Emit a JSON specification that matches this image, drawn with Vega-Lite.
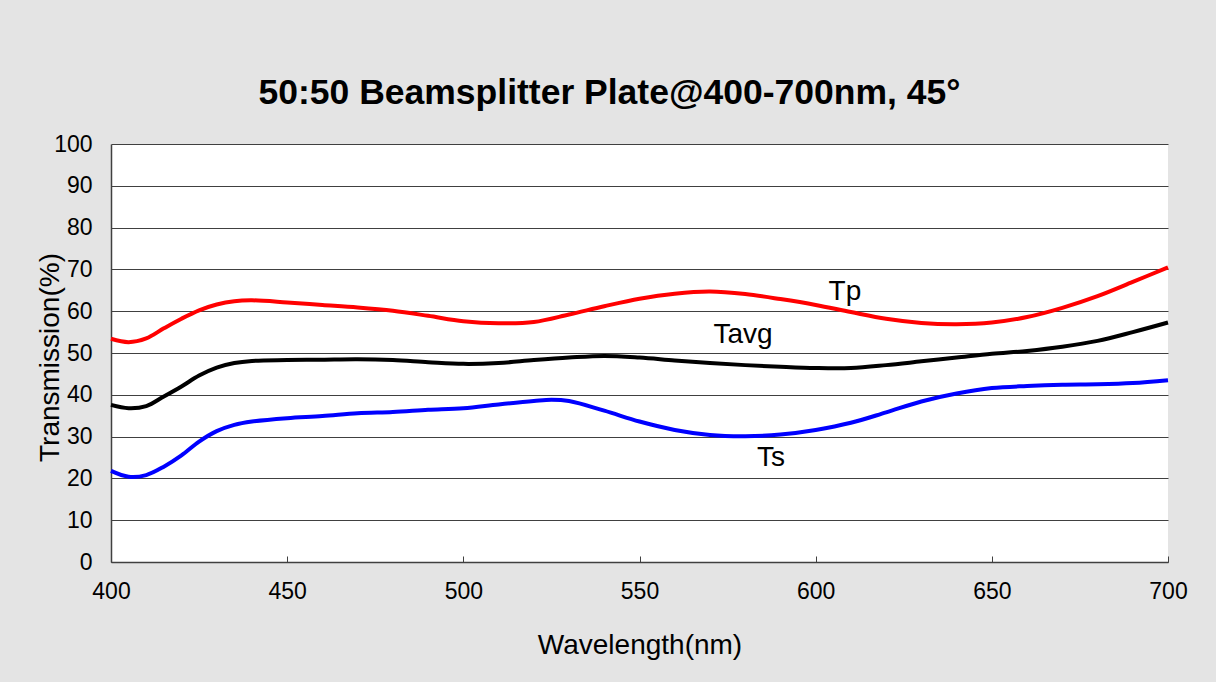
{
  "$schema": "https://vega.github.io/schema/vega-lite/v6.json",
  "autosize": {"type": "none"},
  "padding": {"left": 111, "top": 144, "right": 48, "bottom": 120},
  "width": 1057,
  "height": 418,
  "background": "#e4e4e4",
  "title": {
    "text": "50:50 Beamsplitter Plate@400-700nm, 45°",
    "font": "Liberation Sans",
    "fontSize": 35.5,
    "fontWeight": "bold",
    "color": "#000000",
    "anchor": "middle",
    "frame": "group",
    "baseline": "alphabetic",
    "offset": 39,
    "dx": -30,
    "dy": 45
  },
  "config": {
    "view": {"fill": "white", "stroke": null},
    "axis": {
      "labelFont": "Liberation Sans",
      "titleFont": "Liberation Sans",
      "labelColor": "#000000",
      "titleColor": "#000000",
      "labelFontSize": 23,
      "titleFontSize": 28,
      "titleFontWeight": "normal",
      "domainColor": "#404040",
      "domainWidth": 1.5,
      "tickColor": "#404040"
    }
  },
  "datasets": {
    "curves": [
      {"series": "Tp", "wavelength": 400, "T": 53.4},
      {"series": "Tp", "wavelength": 405, "T": 52.6},
      {"series": "Tp", "wavelength": 410, "T": 53.5},
      {"series": "Tp", "wavelength": 415, "T": 55.9},
      {"series": "Tp", "wavelength": 420, "T": 58.2},
      {"series": "Tp", "wavelength": 425, "T": 60.2},
      {"series": "Tp", "wavelength": 430, "T": 61.6},
      {"series": "Tp", "wavelength": 435, "T": 62.4},
      {"series": "Tp", "wavelength": 440, "T": 62.6},
      {"series": "Tp", "wavelength": 450, "T": 62.1},
      {"series": "Tp", "wavelength": 460, "T": 61.5},
      {"series": "Tp", "wavelength": 470, "T": 60.9},
      {"series": "Tp", "wavelength": 480, "T": 60.1},
      {"series": "Tp", "wavelength": 490, "T": 58.9},
      {"series": "Tp", "wavelength": 500, "T": 57.6},
      {"series": "Tp", "wavelength": 510, "T": 57.1},
      {"series": "Tp", "wavelength": 520, "T": 57.4},
      {"series": "Tp", "wavelength": 530, "T": 59.2},
      {"series": "Tp", "wavelength": 540, "T": 61.2},
      {"series": "Tp", "wavelength": 550, "T": 63.0},
      {"series": "Tp", "wavelength": 560, "T": 64.2},
      {"series": "Tp", "wavelength": 570, "T": 64.7},
      {"series": "Tp", "wavelength": 580, "T": 64.1},
      {"series": "Tp", "wavelength": 590, "T": 62.9},
      {"series": "Tp", "wavelength": 600, "T": 61.5},
      {"series": "Tp", "wavelength": 610, "T": 59.8},
      {"series": "Tp", "wavelength": 620, "T": 58.2},
      {"series": "Tp", "wavelength": 630, "T": 57.2},
      {"series": "Tp", "wavelength": 640, "T": 56.9},
      {"series": "Tp", "wavelength": 650, "T": 57.3},
      {"series": "Tp", "wavelength": 660, "T": 58.6},
      {"series": "Tp", "wavelength": 670, "T": 60.8},
      {"series": "Tp", "wavelength": 680, "T": 63.6},
      {"series": "Tp", "wavelength": 690, "T": 67.0},
      {"series": "Tp", "wavelength": 700, "T": 70.5},
      {"series": "Tavg", "wavelength": 400, "T": 37.6},
      {"series": "Tavg", "wavelength": 405, "T": 36.8},
      {"series": "Tavg", "wavelength": 410, "T": 37.3},
      {"series": "Tavg", "wavelength": 415, "T": 39.6},
      {"series": "Tavg", "wavelength": 420, "T": 42.0},
      {"series": "Tavg", "wavelength": 425, "T": 44.6},
      {"series": "Tavg", "wavelength": 430, "T": 46.5},
      {"series": "Tavg", "wavelength": 435, "T": 47.6},
      {"series": "Tavg", "wavelength": 440, "T": 48.1},
      {"series": "Tavg", "wavelength": 450, "T": 48.3},
      {"series": "Tavg", "wavelength": 460, "T": 48.4},
      {"series": "Tavg", "wavelength": 470, "T": 48.5},
      {"series": "Tavg", "wavelength": 480, "T": 48.3},
      {"series": "Tavg", "wavelength": 490, "T": 47.8},
      {"series": "Tavg", "wavelength": 500, "T": 47.4},
      {"series": "Tavg", "wavelength": 510, "T": 47.6},
      {"series": "Tavg", "wavelength": 520, "T": 48.3},
      {"series": "Tavg", "wavelength": 530, "T": 48.9},
      {"series": "Tavg", "wavelength": 540, "T": 49.3},
      {"series": "Tavg", "wavelength": 550, "T": 48.9},
      {"series": "Tavg", "wavelength": 560, "T": 48.2},
      {"series": "Tavg", "wavelength": 570, "T": 47.6},
      {"series": "Tavg", "wavelength": 580, "T": 47.1},
      {"series": "Tavg", "wavelength": 590, "T": 46.7},
      {"series": "Tavg", "wavelength": 600, "T": 46.4},
      {"series": "Tavg", "wavelength": 610, "T": 46.4},
      {"series": "Tavg", "wavelength": 620, "T": 47.1},
      {"series": "Tavg", "wavelength": 630, "T": 48.0},
      {"series": "Tavg", "wavelength": 640, "T": 48.9},
      {"series": "Tavg", "wavelength": 650, "T": 49.8},
      {"series": "Tavg", "wavelength": 660, "T": 50.5},
      {"series": "Tavg", "wavelength": 670, "T": 51.5},
      {"series": "Tavg", "wavelength": 680, "T": 52.9},
      {"series": "Tavg", "wavelength": 690, "T": 55.0},
      {"series": "Tavg", "wavelength": 700, "T": 57.3},
      {"series": "Ts", "wavelength": 400, "T": 21.8},
      {"series": "Ts", "wavelength": 405, "T": 20.4},
      {"series": "Ts", "wavelength": 410, "T": 20.8},
      {"series": "Ts", "wavelength": 415, "T": 22.8},
      {"series": "Ts", "wavelength": 420, "T": 25.5},
      {"series": "Ts", "wavelength": 425, "T": 28.8},
      {"series": "Ts", "wavelength": 430, "T": 31.3},
      {"series": "Ts", "wavelength": 435, "T": 32.8},
      {"series": "Ts", "wavelength": 440, "T": 33.6},
      {"series": "Ts", "wavelength": 450, "T": 34.4},
      {"series": "Ts", "wavelength": 460, "T": 34.9},
      {"series": "Ts", "wavelength": 470, "T": 35.6},
      {"series": "Ts", "wavelength": 480, "T": 35.9},
      {"series": "Ts", "wavelength": 490, "T": 36.4},
      {"series": "Ts", "wavelength": 500, "T": 36.8},
      {"series": "Ts", "wavelength": 510, "T": 37.7},
      {"series": "Ts", "wavelength": 520, "T": 38.5},
      {"series": "Ts", "wavelength": 525, "T": 38.8},
      {"series": "Ts", "wavelength": 530, "T": 38.5},
      {"series": "Ts", "wavelength": 540, "T": 36.2},
      {"series": "Ts", "wavelength": 550, "T": 33.6},
      {"series": "Ts", "wavelength": 560, "T": 31.6},
      {"series": "Ts", "wavelength": 570, "T": 30.4},
      {"series": "Ts", "wavelength": 580, "T": 30.1},
      {"series": "Ts", "wavelength": 590, "T": 30.5},
      {"series": "Ts", "wavelength": 600, "T": 31.6},
      {"series": "Ts", "wavelength": 610, "T": 33.3},
      {"series": "Ts", "wavelength": 620, "T": 35.8},
      {"series": "Ts", "wavelength": 630, "T": 38.4},
      {"series": "Ts", "wavelength": 640, "T": 40.3},
      {"series": "Ts", "wavelength": 650, "T": 41.6},
      {"series": "Ts", "wavelength": 660, "T": 42.1},
      {"series": "Ts", "wavelength": 670, "T": 42.4},
      {"series": "Ts", "wavelength": 680, "T": 42.5},
      {"series": "Ts", "wavelength": 690, "T": 42.8},
      {"series": "Ts", "wavelength": 700, "T": 43.5}
    ],
    "labels": [
      {"label": "Tp", "wavelength": 608.3, "T": 64.6},
      {"label": "Tavg", "wavelength": 579.4, "T": 54.3},
      {"label": "Ts", "wavelength": 587.3, "T": 24.9}
    ]
  },
  "layer": [
    {
      "data": {"name": "curves"},
      "mark": {"type": "line", "interpolate": "catmull-rom", "strokeWidth": 4},
      "encoding": {
        "x": {
          "field": "wavelength",
          "type": "quantitative",
          "scale": {"domain": [400, 700], "nice": false, "zero": false},
          "axis": {
            "title": "Wavelength(nm)",
            "values": [400, 450, 500, 550, 600, 650, 700],
            "grid": false,
            "labelFlush": false,
            "tickSize": -6,
            "labelPadding": 24,
            "titleY": 91,
            "titleBaseline": "alphabetic"
          }
        },
        "y": {
          "field": "T",
          "type": "quantitative",
          "scale": {"domain": [0, 100], "nice": false},
          "axis": {
            "title": "Transmission(%)",
            "values": [0, 10, 20, 30, 40, 50, 60, 70, 80, 90, 100],
            "grid": true,
            "gridColor": "#404040",
            "gridWidth": 1.2,
            "gridOpacity": 1,
            "ticks": false,
            "labelFlush": false,
            "labelPadding": 19,
            "titleX": -53,
            "titleY": 213,
            "titleAngle": -90,
            "titleAlign": "center",
            "titleBaseline": "alphabetic"
          }
        },
        "color": {
          "field": "series",
          "type": "nominal",
          "scale": {"domain": ["Tp", "Tavg", "Ts"], "range": ["#ff0000", "#000000", "#0000ff"]},
          "legend": null
        },
        "detail": {"field": "series"}
      }
    },
    {
      "data": {"name": "labels"},
      "mark": {"type": "text", "font": "Liberation Sans", "fontSize": 28, "color": "#000000", "align": "center", "baseline": "middle"},
      "encoding": {
        "x": {"field": "wavelength", "type": "quantitative"},
        "y": {"field": "T", "type": "quantitative"},
        "text": {"field": "label"}
      }
    }
  ]
}
